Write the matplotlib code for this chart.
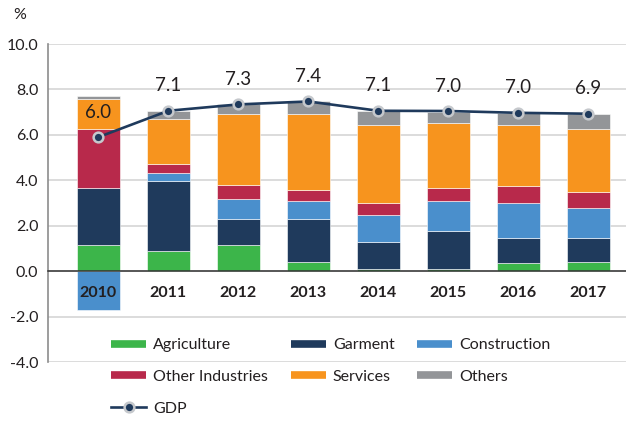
import matplotlib
matplotlib.use("Agg")
import matplotlib.pyplot as plt
from matplotlib.lines import Line2D
import numpy as np

plt.rcParams['font.family'] = ['Lato', 'DejaVu Sans']

# data (percentage point contributions)
years = ['2010', '2011', '2012', '2013', '2014', '2015', '2016', '2017']
agriculture = [1.15, 0.89, 1.15, 0.41, 0.09, 0.09, 0.34, 0.41]
garment = [2.49, 3.09, 1.13, 1.87, 1.20, 1.69, 1.13, 1.06]
construction = [-1.69, 0.32, 0.89, 0.82, 1.16, 1.30, 1.54, 1.31]
other_ind = [2.61, 0.40, 0.63, 0.48, 0.56, 0.58, 0.72, 0.71]
services = [1.31, 1.98, 3.12, 3.32, 3.41, 2.85, 2.70, 2.77]
others = [0.16, 0.38, 0.44, 0.59, 0.64, 0.51, 0.52, 0.66]
gdp = [5.9, 7.06, 7.34, 7.47, 7.06, 7.05, 6.97, 6.93]
gdp_labels = ['6.0', '7.1', '7.3', '7.4', '7.1', '7.0', '7.0', '6.9']

series = [
    ('Agriculture', agriculture, '#3cb54a'),
    ('Garment', garment, '#1f3a5c'),
    ('Construction', construction, '#4a8fcc'),
    ('Other Industries', other_ind, '#b8294b'),
    ('Services', services, '#f7941e'),
    ('Others', others, '#939598'),
]
navy = '#1f3a5c'
txt = '#231f20'

fig = plt.figure(figsize=(6.26, 4.21), dpi=100)
ax = fig.add_axes([48/626, 1-362/421, 1-48/626, (362-44)/421])

x = np.arange(len(years))
pos_base = np.zeros(len(years))
neg_base = np.zeros(len(years))
for name, vals, col in series:
    vals = np.array(vals)
    base = np.where(vals >= 0, pos_base, neg_base)
    ax.bar(x, vals, 0.62, bottom=base, color=col, edgecolor='white', linewidth=0.4, zorder=2)
    pos_base = pos_base + np.where(vals >= 0, vals, 0)
    neg_base = neg_base + np.where(vals < 0, vals, 0)

ax.plot(x, gdp, color=navy, lw=1.9, marker='o', ms=7, mfc=navy, mec='#c5c8cc', mew=1.8, zorder=4)
for xi, yi, lab in zip(x, gdp, gdp_labels):
    ax.annotate(lab, (xi, yi), xytext=(0, 18), textcoords='offset points',
                ha='center', va='center', fontsize=13.5, color=txt, zorder=5)

# x axis sits on the zero line (do this before setting tick labels, it resets ticks)
ax.spines['bottom'].set_position(('data', 0))
ax.spines['bottom'].set_color('#333333')
ax.spines['bottom'].set_linewidth(1.1)
ax.spines['bottom'].set_zorder(3)
for s in ['top', 'right']:
    ax.spines[s].set_visible(False)
ax.spines['left'].set_color('#8c8c8c')
ax.spines['left'].set_linewidth(1.2)

ax.set_ylim(-4, 10)
ax.set_xlim(-0.72, 7.54)
ax.set_yticks(np.arange(-4, 10.1, 2))
ax.set_yticklabels(['%.1f' % v for v in np.arange(-4, 10.1, 2)])
ax.set_xticks(x)
ax.set_xticklabels(years, fontweight='bold')
ax.tick_params(axis='y', length=0, pad=7, labelsize=11.5, labelcolor=txt)
ax.tick_params(axis='x', length=0, pad=10.5, labelsize=11.5, labelcolor=txt)

ax.yaxis.grid(True, color='#d9d9d9', lw=1.3)
ax.set_axisbelow(True)
ax.xaxis.set_zorder(6)

fig.text(20/626, 1-15/421, '%', fontsize=11.5, color=txt, ha='center', va='center')

# legend, ordered so the 3 columns read row-wise like the original
h = {name: Line2D([], [], color=col, lw=5.5, solid_capstyle='butt') for name, _, col in series}
g = Line2D([], [], color=navy, lw=1.9, marker='o', ms=7, mfc=navy, mec='#c5c8cc', mew=1.8)
order = ['Agriculture', 'Other Industries', None, 'Garment', 'Services', 'Construction', 'Others']
handles = [h[n] if n else g for n in order]
labels = [n if n else 'GDP' for n in order]
fig.legend(handles, labels, ncol=3, loc='upper left', bbox_to_anchor=(111/626, 1-338/421),
           frameon=False, fontsize=11.5, handlelength=2.2, handletextpad=0.45,
           columnspacing=1.4, labelspacing=1.1, borderpad=0, borderaxespad=0,
           labelcolor=txt)

fig.savefig('out.png', dpi=100)
